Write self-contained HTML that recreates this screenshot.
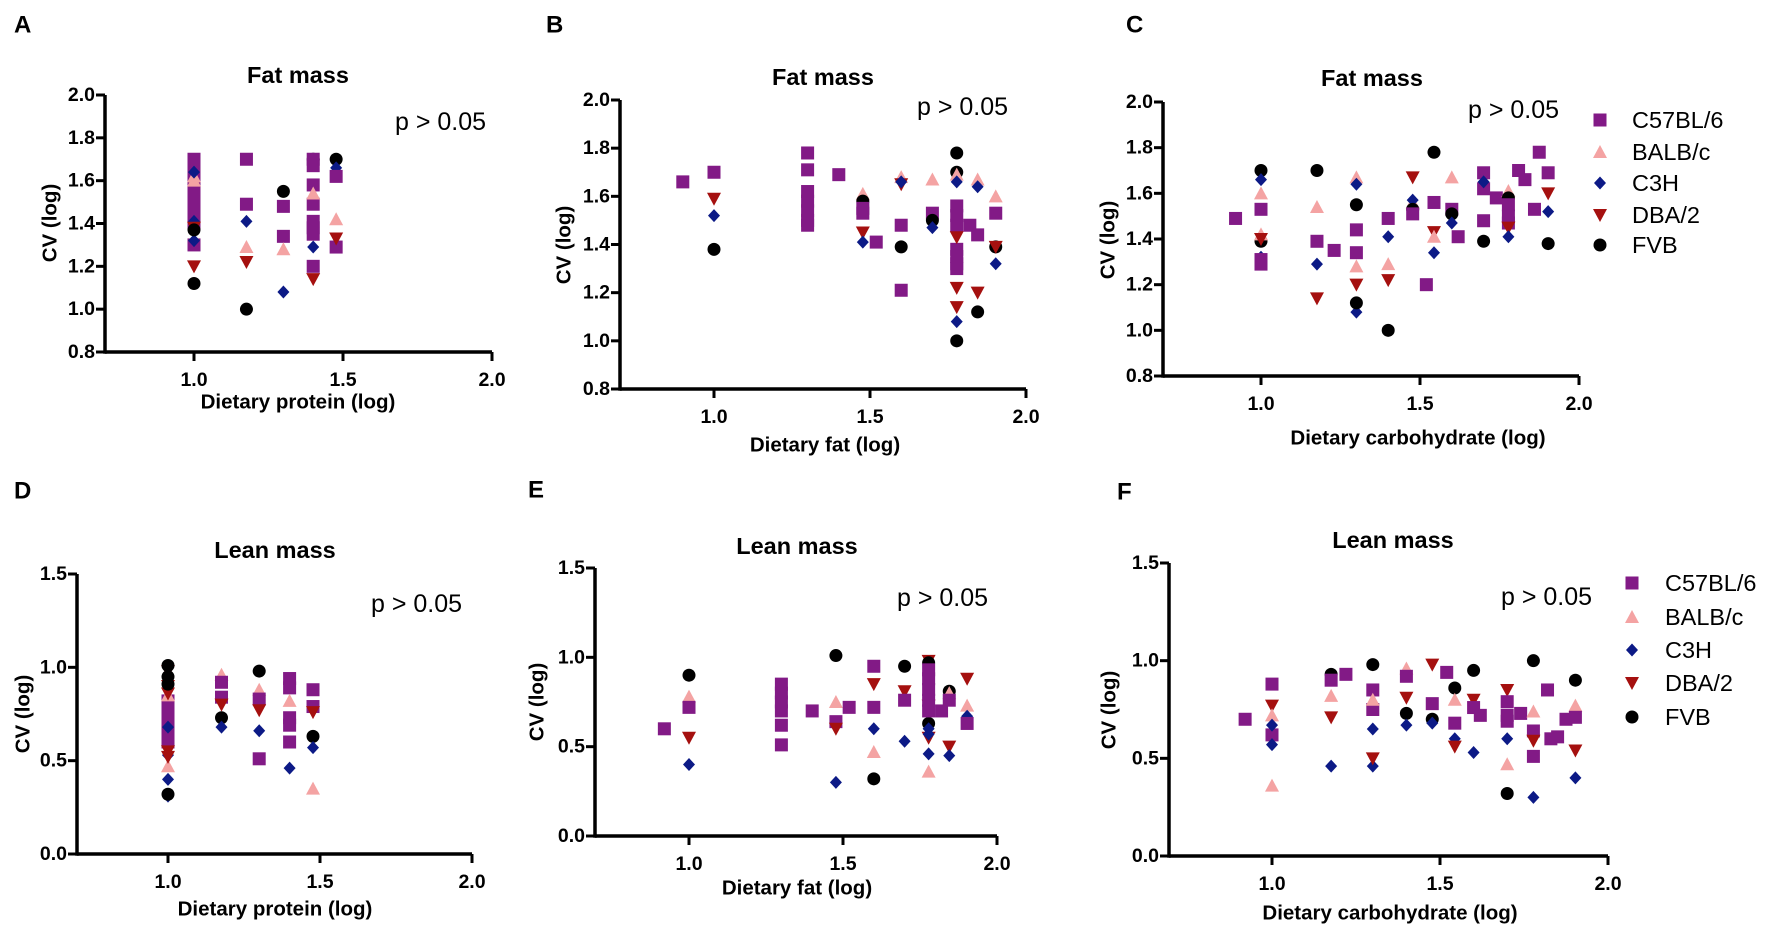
<!DOCTYPE html>
<html><head><meta charset="utf-8"><style>
html,body{margin:0;padding:0;background:#fff;}
svg{display:block;font-family:"Liberation Sans",Arial,sans-serif;}
</style></head><body>
<svg id="s" width="1772" height="938" viewBox="0 0 1772 938" xmlns="http://www.w3.org/2000/svg"></svg>
<script>
var S=document.getElementById('s');var out='';
var COL={s:'#821a86',t:'#f4a3a3',d:'#0c1a86',v:'#a5100f',c:'#000'};
function mk(t,x,y){
 if(t==='s')return '<rect x="'+(x-6.5)+'" y="'+(y-6.5)+'" width="13" height="13" fill="'+COL.s+'"/>';
 if(t==='t')return '<polygon points="'+x+','+(y-7)+' '+(x+7)+','+(y+6)+' '+(x-7)+','+(y+6)+'" fill="'+COL.t+'"/>';
 if(t==='d')return '<polygon points="'+x+','+(y-6.5)+' '+(x+6)+','+y+' '+x+','+(y+6.5)+' '+(x-6)+','+y+'" fill="'+COL.d+'"/>';
 if(t==='v')return '<polygon points="'+x+','+(y+7)+' '+(x+7)+','+(y-6)+' '+(x-7)+','+(y-6)+'" fill="'+COL.v+'"/>';
 return '<circle cx="'+x+'" cy="'+y+'" r="6.5" fill="#000"/>';
}
function txt(x,y,s,sz,w,anc,extra){return '<text x="'+x+'" y="'+y+'" font-size="'+sz+'" font-weight="'+w+'" text-anchor="'+anc+'" dominant-baseline="central" '+(extra||'')+'>'+s+'</text>';}
function panel(P){
 var fx=function(v){return P.x1+(v-1)*(P.x15-P.x1)/0.5;};
 var fy=function(v){return P.yb+(v-P.ymin)*(P.yt-P.yb)/(P.ymax-P.ymin);};
 var x2=fx(2.0);
 out+='<line x1="'+P.ax+'" y1="'+P.yb+'" x2="'+x2+'" y2="'+P.yb+'" stroke="#000" stroke-width="3.5"/>';
 out+='<line x1="'+P.ax+'" y1="'+P.yt+'" x2="'+P.ax+'" y2="'+(P.yb+1.7)+'" stroke="#000" stroke-width="3.5"/>';
 [1,1.5,2].forEach(function(v){var x=fx(v);out+='<line x1="'+x+'" y1="'+P.yb+'" x2="'+x+'" y2="'+(P.yb+9)+'" stroke="#000" stroke-width="3"/>';out+=txt(x,P.yb+28,v.toFixed(1),19.5,'bold','middle');});
 P.yt_.forEach(function(v){var y=fy(v);out+='<line x1="'+(P.ax-9)+'" y1="'+y+'" x2="'+P.ax+'" y2="'+y+'" stroke="#000" stroke-width="3"/>';out+=txt(P.ax-10,y,v.toFixed(1),19.5,'bold','end');});
 out+=txt(P.tx,P.ty,P.title,23.5,'bold','middle');
 out+=txt(P.px,P.py,'p &gt; 0.05',25,'normal','start');
 out+=txt(P.lx,P.ly,P.xl,20.5,'bold','middle');
 out+=txt(P.ylx,P.yly,'CV (log)',20.5,'bold','middle','transform="rotate(-90 '+P.ylx+' '+P.yly+')"');
 out+=txt(P.Lx,P.Ly,P.L,24,'bold','start');
 P.data.forEach(function(g){var x=g[0];for(var i=1;i<g.length;i++){var t=g[i][0];for(var j=1;j<g[i].length;j++)out+=mk(t,fx(x),fy(g[i][j]));}});
}
function legend(mx,tx,ys){var n=['C57BL/6','BALB/c','C3H','DBA/2','FVB'],t=['s','t','d','v','c'];for(var i=0;i<5;i++){out+=mk(t[i],mx,ys[i]);out+=txt(tx,ys[i],n[i],23.5,'normal','start');}}
var fy08=[0.8,1.0,1.2,1.4,1.6,1.8,2.0],fy0=[0,0.5,1.0,1.5];
panel({ax:105,yb:352,yt:95,ymin:0.8,ymax:2.0,x1:194,x15:343,yt_:fy08,title:'Fat mass',tx:298,ty:75,px:395,py:122,xl:'Dietary protein (log)',lx:298,ly:402,ylx:50,yly:223,L:'A',Lx:14,Ly:25,
data:[[1.0,['s',1.70,1.66,1.62,1.58,1.55,1.52,1.49,1.46,1.43,1.40,1.30],['t',1.6,1.62],['d',1.64,1.41,1.32],['v',1.38,1.20],['c',1.37,1.12]],
[1.176,['s',1.70,1.49],['d',1.41],['t',1.29],['v',1.22],['c',1.00]],
[1.30,['c',1.55],['s',1.48,1.34],['t',1.28],['d',1.08]],
[1.40,['c',1.70],['s',1.70,1.67,1.58,1.49,1.41,1.38,1.35,1.20],['t',1.54],['d',1.29],['v',1.14]],
[1.477,['c',1.70],['d',1.66],['s',1.62,1.29],['t',1.42],['v',1.33]]]});
panel({ax:620,yb:389,yt:100,ymin:0.8,ymax:2.0,x1:714,x15:870,yt_:fy08,title:'Fat mass',tx:823,ty:77,px:917,py:107,xl:'Dietary fat (log)',lx:825,ly:445,ylx:564,yly:245,L:'B',Lx:546,Ly:25,
data:[[0.90,['s',1.66]],[1.0,['s',1.70],['v',1.59],['d',1.52],['c',1.38]],
[1.30,['s',1.78,1.71,1.62,1.58,1.54,1.50,1.48]],[1.40,['s',1.69]],
[1.477,['t',1.61],['c',1.58],['s',1.55,1.53],['v',1.45],['d',1.41]],[1.52,['s',1.41]],
[1.60,['t',1.68],['v',1.65],['d',1.66],['s',1.48,1.21],['c',1.39]],
[1.70,['t',1.67],['s',1.53],['c',1.50],['d',1.47]],
[1.778,['c',1.78,1.70,1.00],['t',1.69],['d',1.66,1.08],['s',1.56,1.52,1.48,1.38,1.35,1.32,1.30],['v',1.43,1.22,1.14]],
[1.82,['s',1.48]],[1.845,['t',1.67],['d',1.64],['s',1.44],['v',1.20],['c',1.12]],
[1.903,['t',1.60],['s',1.53],['c',1.39],['v',1.39],['d',1.32]]]});
panel({ax:1163,yb:376,yt:102,ymin:0.8,ymax:2.0,x1:1261,x15:1420,yt_:fy08,title:'Fat mass',tx:1372,ty:78,px:1468,py:110,xl:'Dietary carbohydrate (log)',lx:1418,ly:438,ylx:1108,yly:240,L:'C',Lx:1126,Ly:25,
data:[[0.92,['s',1.49]],[1.0,['c',1.70,1.39],['d',1.66,1.32],['t',1.60,1.42],['s',1.53,1.29,1.31],['v',1.40]],
[1.176,['c',1.70],['t',1.54],['s',1.39],['d',1.29],['v',1.14]],[1.23,['s',1.35]],
[1.30,['t',1.67,1.28],['d',1.64,1.08],['c',1.55,1.12],['s',1.44,1.34],['v',1.20]],
[1.40,['s',1.49],['d',1.41],['t',1.29],['v',1.22],['c',1.00]],
[1.477,['v',1.67],['t',1.56],['d',1.57],['c',1.53],['s',1.51]],[1.52,['s',1.20]],
[1.544,['c',1.78],['s',1.56],['v',1.43],['t',1.41],['d',1.34]],
[1.60,['t',1.67],['s',1.53],['c',1.51],['d',1.47]],[1.62,['s',1.41]],
[1.70,['s',1.69,1.62,1.48],['d',1.65],['c',1.39]],[1.74,['s',1.58]],
[1.778,['t',1.61],['c',1.58],['s',1.55,1.50,1.47],['v',1.45],['d',1.41]],
[1.81,['s',1.70]],[1.83,['s',1.66]],[1.86,['s',1.53]],[1.875,['s',1.78]],
[1.903,['s',1.69],['v',1.60],['d',1.52],['c',1.38]]]});
panel({ax:77,yb:854,yt:574,ymin:0,ymax:1.5,x1:168,x15:320,yt_:fy0,title:'Lean mass',tx:275,ty:550,px:371,py:604,xl:'Dietary protein (log)',lx:275,ly:909,ylx:23,yly:714,L:'D',Lx:14,Ly:491,
data:[[1.0,['s',0.82,0.78,0.74,0.70,0.66,0.62,0.60],['t',0.85,0.47],['d',0.68,0.53,0.40,0.31],['v',0.98,0.90,0.86,0.55,0.52],['c',1.01,0.95,0.91,0.32]],
[1.176,['t',0.96],['s',0.92,0.84],['v',0.80],['c',0.73],['d',0.68]],
[1.30,['c',0.98],['t',0.88],['s',0.83,0.51],['v',0.77],['d',0.66]],
[1.40,['s',0.94,0.89,0.73,0.69,0.60],['t',0.82],['d',0.46]],
[1.477,['s',0.88,0.79],['v',0.76],['c',0.63],['d',0.57],['t',0.35]]]});
panel({ax:595,yb:836,yt:568,ymin:0,ymax:1.5,x1:689,x15:843,yt_:fy0,title:'Lean mass',tx:797,ty:546,px:897,py:598,xl:'Dietary fat (log)',lx:797,ly:888,ylx:537,yly:702,L:'E',Lx:528,Ly:490,
data:[[0.92,['s',0.60]],[1.0,['c',0.90],['t',0.78],['s',0.72],['v',0.55],['d',0.40]],
[1.30,['s',0.85,0.80,0.75,0.70,0.62,0.51]],[1.40,['s',0.70]],
[1.477,['c',1.01],['t',0.75],['s',0.64],['v',0.60],['d',0.30]],[1.52,['s',0.72]],
[1.60,['s',0.95,0.72],['v',0.85],['d',0.60],['t',0.47],['c',0.32]],
[1.70,['c',0.95],['v',0.81],['s',0.76],['d',0.53]],
[1.778,['v',0.98,0.73,0.55],['c',0.97,0.63],['s',0.93,0.88,0.82,0.76,0.70],['d',0.60,0.57,0.46],['t',0.36]],
[1.82,['s',0.70]],[1.845,['c',0.81],['t',0.80],['s',0.76],['v',0.50],['d',0.45]],
[1.903,['v',0.88],['t',0.73],['d',0.67],['s',0.63]]]});
panel({ax:1169,yb:856,yt:563,ymin:0,ymax:1.5,x1:1272,x15:1440,yt_:fy0,title:'Lean mass',tx:1393,ty:540,px:1501,py:597,xl:'Dietary carbohydrate (log)',lx:1390,ly:913,ylx:1109,yly:710,L:'F',Lx:1117,Ly:492,
data:[[0.92,['s',0.70]],[1.0,['s',0.88,0.62],['v',0.77],['t',0.72,0.36],['d',0.67,0.57]],
[1.176,['c',0.93],['s',0.90],['t',0.82],['v',0.71],['d',0.46]],[1.22,['s',0.93]],
[1.30,['c',0.98],['s',0.85,0.75],['t',0.80],['d',0.65,0.46],['v',0.50]],
[1.40,['t',0.96],['s',0.92],['v',0.81],['c',0.73],['d',0.67]],
[1.477,['v',0.98],['s',0.78],['c',0.70],['d',0.68]],[1.52,['s',0.94]],
[1.544,['c',0.86],['t',0.80],['s',0.68],['d',0.60],['v',0.56]],
[1.60,['c',0.95],['v',0.80],['s',0.76],['d',0.53]],[1.62,['s',0.72]],
[1.70,['v',0.85],['s',0.79,0.72,0.69],['d',0.60],['t',0.47],['c',0.32]],[1.74,['s',0.73]],
[1.778,['c',1.00],['t',0.74],['s',0.64,0.51],['v',0.59],['d',0.30]],
[1.82,['s',0.85]],[1.83,['s',0.60]],[1.85,['s',0.61]],[1.875,['s',0.70]],
[1.903,['c',0.90],['t',0.77],['s',0.71],['v',0.54],['d',0.40]]]});
legend(1600,1632,[120,152,183,215,245]);
legend(1632,1665,[583,617,650,683,717]);
S.innerHTML=out;
</script>
</body></html>
